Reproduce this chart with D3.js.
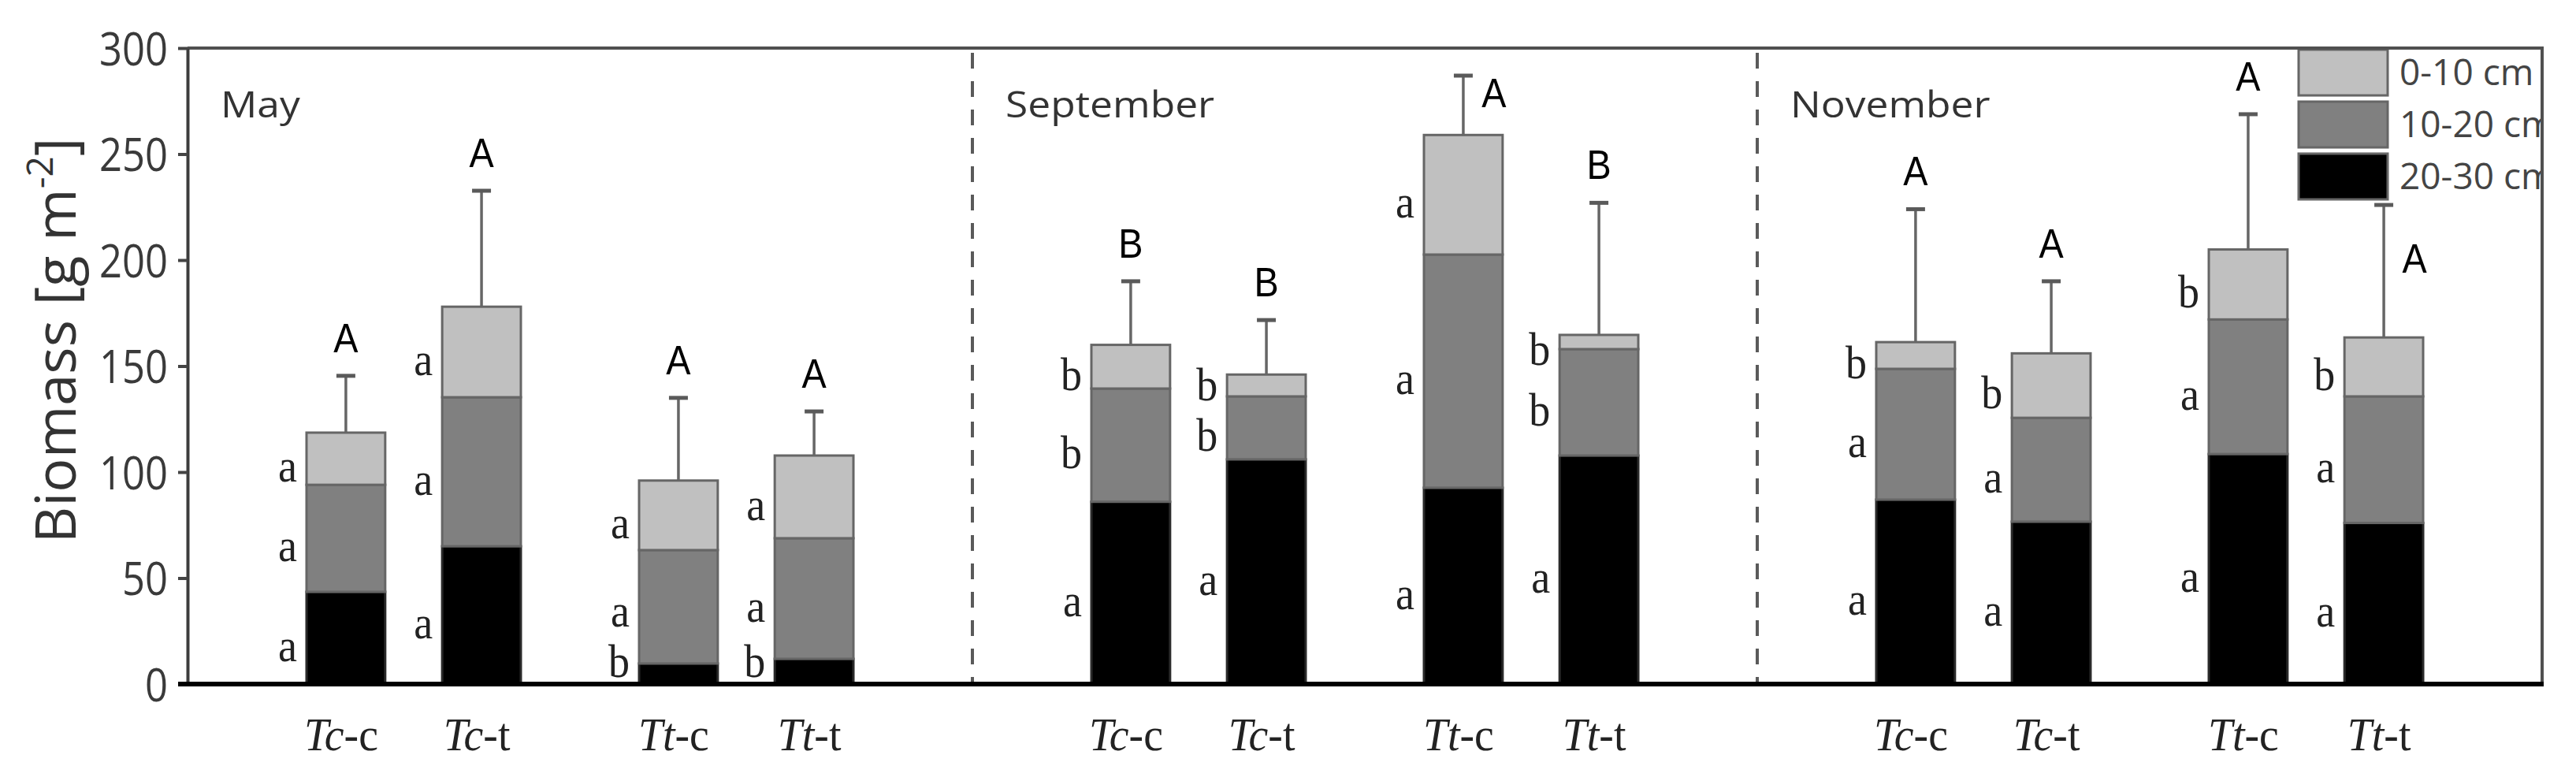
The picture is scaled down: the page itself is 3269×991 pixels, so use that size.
<!DOCTYPE html>
<html>
<head>
<meta charset="utf-8">
<script src="https://cdn.jsdelivr.net/npm/d3@7/dist/d3.min.js"></script>
<style>
  body { margin: 0; background: #fff; }
  svg { display: block; background: #fff; }
</style>
</head>
<body>
<svg id="chart" width="3269" height="991"></svg>
<script>
// ---- data ----
var months = ["May", "September", "November"];
var species = ["Tc", "Tt"];
var treatments = ["c", "t"];
var layers = ["0-10 cm", "10-20 cm", "20-30 cm"];

// biomass of each soil layer, per month; bars in order Tc-c, Tc-t, Tt-c, Tt-t
var layer0_10  = [[24.6, 42.7, 32.8, 39.0], [20.6, 10.3, 56.4, 6.7], [12.6, 30.4, 33.0, 27.8]];
var layer10_20 = [[50.5, 70.3, 53.5, 56.9], [53.4, 29.7, 110.0, 50.2], [61.7, 49.0, 63.5, 59.7]];
var layer20_30 = [[43.5, 65.0, 9.7, 11.9], [86.0, 106.0, 92.6, 107.8], [87.0, 76.6, 108.5, 76.0]];
var errTotal   = [[26.8, 54.7, 39.0, 20.8], [30.0, 25.7, 28.0, 62.3], [62.7, 34.0, 63.8, 62.5]];

var letters0_10  = [["a","a","a","a"], ["b","b","a","b"], ["b","b","b","b"]];
var letters10_20 = [["a","a","a","a"], ["b","b","a","b"], ["a","a","a","a"]];
var letters20_30 = [["a","a","b","b"], ["a","a","a","a"], ["a","a","a","a"]];
var lettersTotal = [["A","A","A","A"], ["B","B","A","B"], ["A","A","A","A"]];

var yTicks = [0, 50, 100, 150, 200, 250, 300];

var colors = {"0-10 cm": "#c0c0c0", "10-20 cm": "#808080", "20-30 cm": "#000000"};

// ---- table for the stack ----
var rows = [];
months.forEach(function(m, mi) {
  species.forEach(function(s, si) {
    treatments.forEach(function(t, ti) {
      var k = si * 2 + ti;
      var r = {month: m, sp: s, tr: t};
      r["0-10 cm"] = layer0_10[mi][k];
      r["10-20 cm"] = layer10_20[mi][k];
      r["20-30 cm"] = layer20_30[mi][k];
      r.total = r["0-10 cm"] + r["10-20 cm"] + r["20-30 cm"];
      r.err = errTotal[mi][k];
      r.letters = {"0-10 cm": letters0_10[mi][k], "10-20 cm": letters10_20[mi][k], "20-30 cm": letters20_30[mi][k]};
      r.group = lettersTotal[mi][k];
      rows.push(r);
    });
  });
});

var stackKeys = ["20-30 cm", "10-20 cm", "0-10 cm"];
var series = d3.stack().keys(stackKeys)(rows);

// ---- scales ----
var pLeft = 238, pRight = 3226, pTop = 61, pBottom = 868;
var x0 = d3.scaleBand().domain(months).range([pLeft, pRight]);
var x1 = d3.scalePoint().domain(species).range([0, x0.bandwidth()]).padding(0.68);
var x2 = d3.scaleBand().domain(treatments).range([-136, 136]).paddingInner(0.42);
var y = d3.scaleLinear().domain([0, 300]).range([pBottom, pTop]);

function cx(d) { return x0(d.month) + x1(d.sp) + x2(d.tr) + x2.bandwidth() / 2; }
var bw = x2.bandwidth();

var svg = d3.select("#chart");

svg.append("defs").append("clipPath").attr("id", "plotclip")
  .append("rect").attr("x", pLeft).attr("y", 0).attr("width", pRight - pLeft).attr("height", pBottom);

// month separators
svg.append("g").selectAll("line").data(months.slice(1)).join("line")
  .attr("x1", function(m) { return x0(m); }).attr("x2", function(m) { return x0(m); })
  .attr("y1", pTop + 6).attr("y2", pBottom - 2)
  .attr("stroke", "#5a5a5a").attr("stroke-width", 4).attr("stroke-dasharray", "20,16");

// month names
svg.append("g").selectAll("g").data(months).join("g")
  .attr("transform", function(m) { return "translate(" + (x0(m) + 42) + ",149) scale(1.12,1)"; })
  .append("text")
  .attr("font-family", "'Open Sans', sans-serif").attr("font-size", 46)
  .attr("fill", "#333").text(function(m) { return m; });

// stacked bars
var bars = svg.append("g");
series.forEach(function(s) {
  bars.append("g").selectAll("rect").data(s).join("rect")
    .attr("x", function(d) { return cx(d.data) - bw / 2; })
    .attr("width", bw)
    .attr("y", function(d) { return y(d[1]); })
    .attr("height", function(d) { return y(d[0]) - y(d[1]); })
    .attr("fill", colors[s.key])
    .attr("stroke", s.key == "20-30 cm" ? "#2a2a2a" : "#666")
    .attr("stroke-width", 3);
});

// error bars
var eb = svg.append("g");
eb.selectAll("line.v").data(rows).join("line").attr("class", "v")
  .attr("x1", cx).attr("x2", cx)
  .attr("y1", function(d) { return y(d.total); })
  .attr("y2", function(d) { return y(d.total + d.err); })
  .attr("stroke", "#666").attr("stroke-width", 3.5);
eb.selectAll("line.c").data(rows).join("line").attr("class", "c")
  .attr("x1", function(d) { return cx(d) - 12; }).attr("x2", function(d) { return cx(d) + 12; })
  .attr("y1", function(d) { return y(d.total + d.err); })
  .attr("y2", function(d) { return y(d.total + d.err); })
  .attr("stroke", "#5a5a5a").attr("stroke-width", 5);

// layer letters, left of each segment; pushed apart when segments are thin
var segLetters = [];
rows.forEach(function(r, i) {
  var prev = y(0) - 28 + 64;
  series.forEach(function(s) {
    var d = s[i];
    var mid = (y(d[0]) + y(d[1])) / 2;
    var yy = Math.min(mid + 10, prev - 64);
    prev = yy;
    segLetters.push({x: cx(r) - bw / 2 - 12, y: yy, t: r.letters[s.key]});
  });
});
svg.append("g").selectAll("g").data(segLetters).join("g")
  .attr("transform", function(d) { return "translate(" + d.x + "," + d.y + ") scale(0.9,1)"; })
  .append("text")
  .attr("text-anchor", "end").attr("dy", "0.32em")
  .attr("font-family", "'Liberation Serif', 'DejaVu Serif', serif").attr("font-size", 60)
  .attr("fill", "#222")
  .text(function(d) { return d.t; });

// legend
var legX = 2917, legW = 113;
var ly = d3.scaleBand().domain(layers).range([63, 253]).paddingInner(0.12);
var leg = svg.append("g");
leg.selectAll("rect").data(layers).join("rect")
  .attr("x", legX).attr("width", legW)
  .attr("y", function(k) { return ly(k); }).attr("height", ly.bandwidth())
  .attr("fill", function(k) { return colors[k]; })
  .attr("stroke", "#666").attr("stroke-width", 3);
leg.append("g").attr("clip-path", "url(#plotclip)")
  .selectAll("text").data(layers).join("text")
  .attr("x", 3045).attr("y", function(k) { return ly(k) + ly.bandwidth() / 2 + 16; })
  .attr("font-family", "'Open Sans', sans-serif").attr("font-size", 46)
  .attr("fill", "#444").text(function(k) { return k; });

// group letters above the error bars
var legBottom = ly.range()[1];
svg.append("g").selectAll("g").data(rows).join("g")
  .attr("transform", function(d) {
    var capY = y(d.total + d.err);
    var xx = cx(d), base = capY - 30;
    var glyphTop = base - 37;
    var hitsLegend = xx + 25 > legX && glyphTop < legBottom;
    if (glyphTop < pTop + 8 || hitsLegend) {
      xx = cx(d) + 39;
      base = (capY + y(d.total)) / 2 + 2;
    }
    return "translate(" + xx + "," + base + ") scale(0.9,1)";
  })
  .append("text")
  .attr("text-anchor", "middle")
  .attr("font-family", "'Liberation Sans', Arial, sans-serif").attr("font-size", 52)
  .attr("fill", "#000").text(function(d) { return d.group; });

// x labels: italic species + plain treatment
var xl = svg.append("g").selectAll("g").data(rows).join("g")
  .attr("transform", function(d) { return "translate(" + (cx(d) - 6) + ",952) scale(0.93,1)"; })
  .append("text")
  .attr("text-anchor", "middle")
  .attr("font-family", "'Liberation Serif', 'DejaVu Serif', serif").attr("font-size", 60)
  .attr("fill", "#222");
xl.append("tspan").attr("font-style", "italic").text(function(d) { return d.sp; });
xl.append("tspan").text(function(d) { return "-" + d.tr; });

// frame
var frame = svg.append("g").attr("fill", "none");
frame.append("line").attr("x1", pLeft).attr("x2", pRight).attr("y1", pTop).attr("y2", pTop)
  .attr("stroke", "#505050").attr("stroke-width", 4);
frame.append("line").attr("x1", pRight).attr("x2", pRight).attr("y1", pTop - 2).attr("y2", pBottom)
  .attr("stroke", "#505050").attr("stroke-width", 4);

// y axis
var yAxis = d3.axisLeft(y).tickValues(yTicks).tickSize(12).tickSizeOuter(0).tickPadding(17);
var ga = svg.append("g").attr("transform", "translate(" + pLeft + ",0)").call(yAxis);
ga.select(".domain").attr("stroke", "#3c3c3c").attr("stroke-width", 4);
ga.selectAll(".tick line").attr("stroke", "#444").attr("stroke-width", 4);
ga.selectAll(".tick text")
  .attr("font-family", "'Open Sans', sans-serif").attr("font-size", 59)
  .attr("fill", "#3a3a3a").attr("dy", "0.36em")
  .attr("transform", "scale(0.86,1)");

// x baseline
svg.append("line").attr("x1", pLeft - 12).attr("x2", pRight + 2).attr("y1", pBottom).attr("y2", pBottom)
  .attr("stroke", "#000").attr("stroke-width", 6);

// y title
var yt = svg.append("g").attr("transform", "translate(96,432) rotate(-90)")
  .append("text").attr("text-anchor", "middle")
  .attr("font-family", "'Open Sans', sans-serif").attr("font-size", 72).attr("fill", "#333");
yt.append("tspan").text("Biomass [g m");
yt.append("tspan").attr("font-size", 46).attr("dy", -29).text("-2");
yt.append("tspan").attr("dy", 29).text("]");
</script>
</body>
</html>
